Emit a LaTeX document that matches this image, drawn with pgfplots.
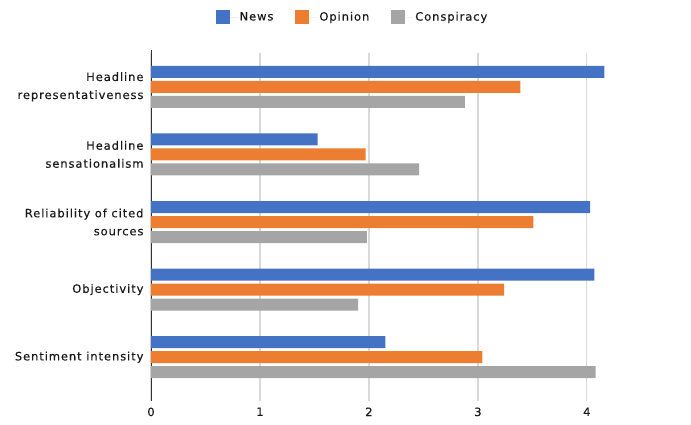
\documentclass[border=0pt]{standalone}
\usepackage{pgfplots}
\pgfplotsset{compat=1.18}
\usepackage{fontspec}
\setmainfont{DejaVu Sans}[LetterSpace=8, FakeBold=0.3]
\definecolor{cNews}{HTML}{4472C4}
\definecolor{cOpinion}{HTML}{ED7D31}
\definecolor{cConsp}{HTML}{A5A5A5}
\definecolor{cGrid}{HTML}{D9D9D9}
\definecolor{cText}{HTML}{1A1A1A}
\begin{document}
\begin{tikzpicture}
\useasboundingbox (0,0) rectangle (691pt,-424pt);
\begin{axis}[
  at={(151pt,-53pt)}, anchor=north west,
  scale only axis, width=474pt, height=338pt,
  xbar=3pt, bar width=12pt,
  xmin=0, xmax=4.35, ymin=-0.5, ymax=4.5, y dir=reverse,
  ytick={0,1,2,3,4},
  yticklabels={{Headline\\representativeness},{Headline\\sensationalism},{Reliability of cited\\sources},{Objectivity},{Sentiment intensity}},
  yticklabel style={align=right, font=\fontsize{11.5}{18}\selectfont, text=cText, xshift=6pt},
  xtick={0,1,2,3,4},
  xticklabel style={font=\fontsize{11.5}{13}\selectfont, text=cText, yshift=-3pt},
  /pgf/number format/assume math mode=true,
  axis x line*=bottom, axis y line*=left,
  x axis line style={draw=none},
  y axis line style={draw=black!80, line width=0.8pt, -, shorten <=-3pt, shorten >=-10pt},
  xmajorgrids, grid style={draw=cGrid, line width=1.2pt},
  major x tick style={draw=cGrid, line width=1.2pt},
  major y tick style={draw=none},
  tick align=outside, major tick length=10pt,
  legend style={at={(0.425,1.1065)}, anchor=center, draw=none, fill=none,
    legend columns=3, font=\fontsize{11.5}{13}\selectfont, text=cText,
    /tikz/every even column/.append style={column sep=20pt}},
  legend image code/.code={\fill[#1,draw=none] (0pt,-6.5pt) rectangle (14pt,7pt); \path (0pt,0pt) -- (22pt,0pt);},
]
\addplot[fill=cNews, draw=none, bar shift=15pt] coordinates {(4.16,0) (1.53,1) (4.03,2) (4.07,3) (2.15,4)};
\addplot[fill=cOpinion, draw=none, bar shift=0pt] coordinates {(3.39,0) (1.97,1) (3.51,2) (3.24,3) (3.04,4)};
\addplot[fill=cConsp, draw=none, bar shift=-15pt] coordinates {(2.88,0) (2.46,1) (1.98,2) (1.90,3) (4.08,4)};
\legend{News,Opinion,Conspiracy}
\end{axis}
\end{tikzpicture}
\end{document}
